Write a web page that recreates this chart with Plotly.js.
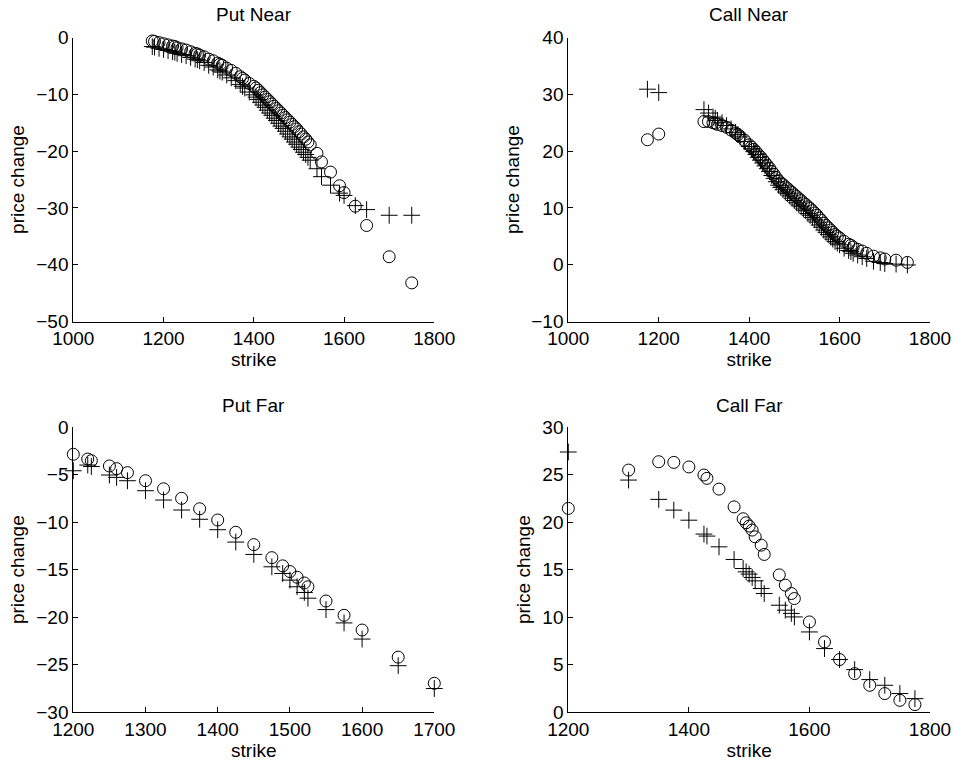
<!DOCTYPE html>
<html>
<head>
<meta charset="utf-8">
<script src="https://cdn.plot.ly/plotly-3.0.1.min.js"></script>
<style>html,body{margin:0;padding:0;background:#fff;}#chart{width:954px;height:764px;}</style>
</head>
<body>
<div id="chart"></div>
<script>
// ---------- data ----------
const titles = ["Put Near", "Call Near", "Put Far", "Call Far"];
const xLabel = "strike";
const yLabel = "price change";

// Put Near
const pnStrike = [1175,1180,1190,1200,1210,1220,1225,1230,1240,1250,1260,1270,1275,1280,1290,1300,1310,1320,1325,1330,1340,1350,1360,1370,1375,1380,1390,1400,1405,1410,1415,1420,1425,1430,1435,1440,1445,1450,1455,1460,1465,1470,1475,1480,1485,1490,1495,1500,1505,1510,1515,1520,1525,1540,1550,1570,1590,1600,1625,1650,1700,1750];
const pnCircle = [-0.6,-0.7,-0.9,-1.1,-1.3,-1.5,-1.6,-1.8,-2.0,-2.2,-2.5,-2.8,-2.9,-3.1,-3.4,-3.8,-4.1,-4.5,-4.7,-4.9,-5.4,-5.8,-6.3,-6.9,-7.2,-7.5,-8.1,-8.6,-8.9,-9.3,-9.7,-10.1,-10.5,-10.9,-11.3,-11.7,-12.1,-12.5,-12.9,-13.3,-13.7,-14.1,-14.5,-14.9,-15.3,-15.7,-16.1,-16.6,-17.0,-17.5,-17.9,-18.4,-18.9,-20.4,-21.9,-23.7,-26.1,-27.3,-29.7,-33.1,-38.6,-43.2];
const pnCross = [-1.6,-1.7,-1.9,-2.1,-2.3,-2.5,-2.6,-2.8,-3.0,-3.2,-3.5,-3.8,-3.9,-4.1,-4.4,-4.9,-5.2,-5.7,-5.9,-6.1,-6.6,-7.1,-7.6,-8.3,-8.6,-8.9,-9.6,-10.1,-10.5,-10.9,-11.4,-11.9,-12.3,-12.8,-13.3,-13.7,-14.2,-14.6,-15.1,-15.6,-16.0,-16.5,-17.0,-17.5,-17.9,-18.4,-18.8,-19.3,-19.7,-20.2,-20.6,-21.1,-21.6,-23.1,-24.5,-26.0,-27.4,-27.8,-29.6,-30.3,-31.3,-31.3];

// Call Near
const cnStrike = [1175,1200,1300,1310,1320,1325,1330,1340,1350,1360,1370,1375,1380,1390,1400,1405,1410,1415,1420,1425,1430,1435,1440,1445,1450,1455,1460,1465,1470,1475,1480,1485,1490,1495,1500,1505,1510,1515,1520,1525,1530,1535,1540,1545,1550,1555,1560,1565,1570,1575,1580,1585,1590,1595,1600,1610,1620,1625,1630,1640,1650,1660,1675,1690,1700,1725,1750];
const cnCircle = [22.0,23.0,25.2,25.2,25.0,24.9,24.7,24.5,24.2,23.7,23.2,22.9,22.6,21.9,21.1,20.7,20.3,19.9,19.4,19.0,18.5,18.0,17.5,17.0,16.4,15.9,15.3,14.8,14.4,14.1,13.7,13.4,13.0,12.7,12.3,12.0,11.6,11.3,10.9,10.6,10.2,9.9,9.5,9.1,8.7,8.2,7.8,7.3,6.9,6.5,6.1,5.7,5.3,5.0,4.7,4.1,3.6,3.4,3.1,2.7,2.4,2.0,1.5,1.2,1.0,0.8,0.4];
const cnCross = [30.9,30.3,27.3,26.7,26.0,25.8,25.4,25.0,24.5,23.9,23.3,22.9,22.5,21.7,20.8,20.4,19.9,19.4,18.9,18.4,17.9,17.4,16.9,16.4,15.7,15.2,14.6,14.0,13.6,13.2,12.8,12.5,12.1,11.7,11.3,10.9,10.5,10.2,9.8,9.5,9.0,8.7,8.3,7.9,7.5,7.0,6.6,6.1,5.7,5.3,4.9,4.5,4.1,3.8,3.5,2.9,2.5,2.3,2.0,1.7,1.4,1.1,0.6,0.4,0.2,0.1,-0.05];

// Put Far
const pfStrike = [1200,1220,1225,1250,1260,1275,1300,1325,1350,1375,1400,1425,1450,1475,1490,1500,1510,1520,1525,1550,1575,1600,1650,1700];
const pfCircle = [-2.87,-3.37,-3.54,-4.1,-4.38,-4.8,-5.65,-6.5,-7.5,-8.6,-9.78,-11.07,-12.37,-13.74,-14.6,-15.2,-15.8,-16.4,-16.8,-18.3,-19.8,-21.35,-24.2,-26.95];
const pfCross = [-4.6,-4.0,-4.15,-5.05,-5.3,-5.65,-6.7,-7.68,-8.73,-9.7,-10.8,-12.1,-13.4,-14.7,-15.4,-16.1,-16.8,-17.4,-18.0,-19.2,-20.6,-22.3,-25.1,-27.5];

// Call Far
const cfStrike = [1200,1300,1350,1375,1400,1425,1430,1450,1475,1490,1495,1500,1505,1510,1520,1525,1550,1560,1570,1575,1600,1625,1650,1675,1700,1725,1750,1775];
const cfCircle = [21.44,25.47,26.35,26.28,25.8,24.95,24.6,23.47,21.6,20.35,19.93,19.58,19.16,18.45,17.58,16.6,14.45,13.37,12.49,11.96,9.5,7.4,5.55,4.07,2.84,1.97,1.26,0.81];
const cfCross = [27.37,24.42,22.39,21.26,20.2,18.74,18.53,17.4,16.07,15.12,14.77,14.53,14.18,13.82,13.02,12.49,11.26,10.74,10.4,10.03,8.45,6.7,5.55,4.49,3.44,2.84,1.97,1.44];

// ---------- build ----------
const FONT = "Liberation Sans, Arial, Helvetica, sans-serif";
const FS = 19;
const W = 954, H = 764;

function circleTrace(x, y, xa, ya) {
  return {x: x, y: y, xaxis: xa, yaxis: ya, type: "scatter", mode: "markers", cliponaxis: false,
    marker: {symbol: "circle-open", size: 12, color: "#000", line: {width: 1, color: "#000"}},
    hoverinfo: "x+y", showlegend: false};
}
function crossTrace(x, y, xa, ya) {
  return {x: x, y: y, xaxis: xa, yaxis: ya, type: "scatter", mode: "markers", cliponaxis: false,
    marker: {symbol: "cross-thin-open", size: 12, color: "#000", line: {width: 1, color: "#000"}},
    hoverinfo: "x+y", showlegend: false};
}

const data = [
  crossTrace(pnStrike, pnCross, "x", "y"), circleTrace(pnStrike, pnCircle, "x", "y"),
  crossTrace(cnStrike, cnCross, "x2", "y2"), circleTrace(cnStrike, cnCircle, "x2", "y2"),
  crossTrace(pfStrike, pfCross, "x3", "y3"), circleTrace(pfStrike, pfCircle, "x3", "y3"),
  crossTrace(cfStrike, cfCross, "x4", "y4"), circleTrace(cfStrike, cfCircle, "x4", "y4")
];

const colL = [73.3 / W, 434.3 / W];
const colR = [568.3 / W, 930 / W];
const rowT = [1 - 321.5 / H, 1 - 37.5 / H];
const rowB = [1 - 712.3 / H, 1 - 427 / H];

function xax(domain, range, dtick, anchor) {
  return {domain: domain, range: range, dtick: dtick, tick0: 0, anchor: anchor,
    showline: true, linecolor: "#000", linewidth: 1, ticks: "inside", ticklen: 5, tickcolor: "#000",
    showgrid: false, zeroline: false, mirror: false, automargin: false,
    tickfont: {family: FONT, size: FS, color: "#000"},
    title: {text: xLabel, font: {family: FONT, size: FS, color: "#000"}, standoff: 4}};
}
function yax(domain, range, dtick, anchor) {
  return {domain: domain, range: range, dtick: dtick, tick0: 0, anchor: anchor,
    showline: true, linecolor: "#000", linewidth: 1, ticks: "inside", ticklen: 5, tickcolor: "#000",
    showgrid: false, zeroline: false, mirror: false, automargin: false,
    tickfont: {family: FONT, size: FS, color: "#000"},
    title: {text: yLabel, font: {family: FONT, size: FS, color: "#000"}, standoff: 6}};
}

const layout = {
  width: W, height: H,
  margin: {l: 0, r: 0, t: 0, b: 0},
  paper_bgcolor: "#fff", plot_bgcolor: "#fff",
  font: {family: FONT, size: FS, color: "#000"},
  showlegend: false,
  xaxis: xax(colL, [1000, 1800], 200, "y"),
  yaxis: yax(rowT, [-50, 0], 10, "x"),
  xaxis2: xax(colR, [1000, 1800], 200, "y2"),
  yaxis2: yax(rowT, [-10, 40], 10, "x2"),
  xaxis3: xax(colL, [1200, 1700], 100, "y3"),
  yaxis3: yax(rowB, [-30, 0], 5, "x3"),
  xaxis4: xax(colR, [1200, 1800], 200, "y4"),
  yaxis4: yax(rowB, [0, 30], 5, "x4"),
  annotations: [
    {text: titles[0], x: (colL[0] + colL[1]) / 2, y: 1 - 15 / H},
    {text: titles[1], x: (colR[0] + colR[1]) / 2, y: 1 - 15 / H},
    {text: titles[2], x: (colL[0] + colL[1]) / 2, y: 1 - 405 / H},
    {text: titles[3], x: (colR[0] + colR[1]) / 2, y: 1 - 405 / H}
  ].map(a => Object.assign(a, {xref: "paper", yref: "paper", xanchor: "center", yanchor: "middle",
      showarrow: false, font: {family: FONT, size: FS, color: "#000"}}))
};

Plotly.newPlot("chart", data, layout, {staticPlot: true, displayModeBar: false});
</script>
</body>
</html>
